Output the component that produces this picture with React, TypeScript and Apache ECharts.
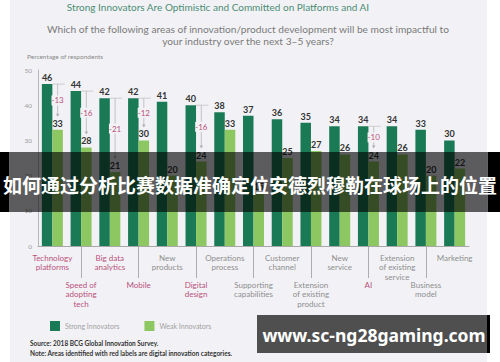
import React, { useEffect, useRef } from 'react';
import * as echarts from 'echarts';

const categories = [
  'Technology\nplatforms',
  'Speed of\nadopting\ntech',
  'Big data\nanalytics',
  'Mobile',
  'New\nproducts',
  'Digital\ndesign',
  'Operations\nprocess',
  'Supporting\ncapabilities',
  'Customer\nchannel',
  'Extension\nof existing\nproduct',
  'New\nservice',
  'AI',
  'Extension\nof existing\nservice',
  'Business\nmodel',
  'Marketing',
];
const strongInnovators = [46, 44, 42, 42, 41, 40, 38, 37, 36, 35, 34, 34, 34, 33, 30];
const weakInnovators = [33, 28, 21, 30, 20, 24, 33, 15, 25, 27, 26, 24, 26, 20, 22];
const digitalCategories = [0, 1, 2, 3, 5, 11];
const gapAnnotated = [0, 1, 2, 3, 5, 11];
const yTicks = { min: 0, max: 50, interval: 10 };

const titleText = 'Strong Innovators Are Optimistic and Committed on Platforms and AI';
const questionLines = [
  'Which of the following areas of innovation/product development will be most impactful to',
  'your industry over the next 3\u20135 years?',
];
const yAxisName = 'Percentage of respondents';
const legendNames = ['Strong Innovators', 'Weak Innovators'];
const footerLines = [
  'Source: 2018 BCG Global Innovation Survey.',
  'Note: Areas identified with red labels are digital innovation categories.',
];
const bannerText = '如何通过分析比赛数据准确定位安德烈穆勒在球场上的位置';
const watermarkText = 'www.sc-ng28gaming.com';

const DARK = '#1b7a56';
const LIGHT = '#8dc762';
const PANEL = '#f2f2f6';
const RED = '#b9517a';
const GREY = '#8e8e8e';
const FONT = 'Lato';
const BAR_W = 10.5;

export default function App() {
  const ref = useRef<HTMLDivElement>(null);

  useEffect(() => {
    if (!ref.current) return;
    const chart = echarts.init(ref.current, null, { renderer: 'svg' });

    const option: any = {
      animation: false,
      backgroundColor: 'transparent',
      textStyle: { fontFamily: FONT },
      grid: { left: 38, right: 31, top: 70, bottom: 116, containLabel: false },
      legend: {
        data: legendNames,
        left: 45,
        top: 316,
        icon: 'rect',
        itemWidth: 10,
        itemHeight: 10,
        itemGap: 25,
        textStyle: { color: '#a0a0a0', fontSize: 7, fontFamily: FONT },
      },
      xAxis: {
        type: 'category',
        data: categories,
        axisLine: { lineStyle: { color: '#a8a8a8', width: 1 } },
        axisTick: {
          show: true,
          alignWithLabel: true,
          interval: (idx: number) => idx % 2 === 1,
          length: 32,
          lineStyle: { color: '#9a9a9a', width: 0.8 },
        },
        axisLabel: {
          interval: 0,
          margin: 7,
          formatter: (value: string, idx: number) => {
            const key = digitalCategories.includes(idx) ? 'r' : 'g';
            const body = value
              .split('\n')
              .map((l) => `{${key}|${l}}`)
              .join('\n');
            return idx % 2 === 1 ? `{sp| }\n${body}` : body;
          },
          rich: {
            r: { color: RED, fontSize: 8, lineHeight: 9.5, fontFamily: FONT },
            g: { color: GREY, fontSize: 8, lineHeight: 9.5, fontFamily: FONT },
            sp: { fontSize: 8, lineHeight: 27, height: 27 },
          },
        },
      },
      yAxis: {
        type: 'value',
        min: yTicks.min,
        max: yTicks.max,
        interval: yTicks.interval,
        axisLine: { show: true, lineStyle: { color: '#b8b8b8', width: 1 } },
        axisTick: { show: false },
        splitLine: { show: false },
        axisLabel: { color: '#9a9a9a', fontSize: 6.5, margin: 6, fontFamily: FONT },
      },
      series: [
        {
          name: legendNames[0],
          type: 'bar',
          data: strongInnovators,
          barWidth: BAR_W,
          barGap: '0%',
          itemStyle: { color: DARK },
          label: {
            show: true,
            position: 'top',
            distance: 2,
            color: '#333',
            fontSize: 9,
            fontWeight: 'bold',
            fontFamily: FONT,
          },
        },
        {
          name: legendNames[1],
          type: 'bar',
          data: weakInnovators,
          barWidth: BAR_W,
          barGap: '0%',
          itemStyle: { color: LIGHT },
          label: {
            show: true,
            position: 'top',
            distance: 2,
            color: '#333',
            fontSize: 9,
            fontWeight: 'bold',
            fontFamily: FONT,
          },
        },
        {
          type: 'custom',
          silent: true,
          z: 5,
          encode: { x: 0, y: [1, 2] },
          data: gapAnnotated.map((i) => [i, strongInnovators[i], weakInnovators[i]]),
          renderItem: (params: any, api: any) => {
            const i = api.value(0);
            const s = api.value(1);
            const w = api.value(2);
            const top = api.coord([i, s]);
            const bot = api.coord([i, w]);
            const x = top[0] + BAR_W / 2;
            const y1 = top[1];
            const y2 = bot[1] - 13;
            const mid = (y1 + y2) / 2;
            return {
              type: 'group',
              children: [
                {
                  type: 'line',
                  shape: { x1: top[0], y1, x2: x + 7, y2: y1 },
                  style: { stroke: '#c4c4c4', lineWidth: 0.8 },
                },
                {
                  type: 'line',
                  shape: { x1: x, y1, x2: x, y2: y2 - 2 },
                  style: { stroke: '#b8b8b8', lineWidth: 0.8 },
                },
                {
                  type: 'polygon',
                  shape: { points: [[x - 1.8, y2 - 3], [x + 1.8, y2 - 3], [x, y2]] },
                  style: { fill: '#b0b0b0' },
                },
                {
                  type: 'text',
                  x,
                  y: mid,
                  style: {
                    text: `-${s - w}`,
                    fill: RED,
                    fontSize: 8,
                    fontFamily: FONT,
                    align: 'center',
                    verticalAlign: 'middle',
                    backgroundColor: PANEL,
                    padding: [1, 0],
                  },
                },
              ],
            };
          },
        },
      ],
      graphic: [
        {
          type: 'text',
          style: {
            x: 218,
            y: 7,
            text: titleText,
            fill: '#4b8d73',
            fontSize: 10,
            fontFamily: FONT,
            align: 'center',
            verticalAlign: 'middle',
          },
          silent: true,
        },
        ...questionLines.map((t, k) => ({
          type: 'text',
          style: {
            x: 248,
            y: 29 + k * 12,
            text: t,
            fill: '#7a7a7a',
            fontSize: 10.2,
            fontFamily: FONT,
            align: 'center',
            verticalAlign: 'middle',
          },
          silent: true,
        })),
        {
          type: 'text',
          style: {
            x: 27,
            y: 56,
            text: yAxisName,
            fill: '#8a8a8a',
            fontSize: 6.5,
            fontFamily: FONT,
            align: 'left',
            verticalAlign: 'middle',
          },
          silent: true,
        },
        ...footerLines.map((t, k) => ({
          type: 'text',
          style: {
            x: 30,
            y: 343 + k * 10,
            text: t,
            fill: '#333',
            fontSize: 6.5,
            fontWeight: 'bold',
            fontFamily: FONT,
            align: 'left',
            verticalAlign: 'middle',
          },
          silent: true,
        })),
        {
          type: 'rect',
          z: 100,
          shape: { x: 0, y: 152, width: 9, height: 60 },
          style: { fill: '#000' },
          silent: true,
        },
        {
          type: 'rect',
          z: 100,
          shape: { x: 9, y: 152, width: 479, height: 60 },
          style: { fill: 'rgba(0,0,0,0.62)' },
          silent: true,
        },
        {
          type: 'rect',
          z: 100,
          shape: { x: 488, y: 152, width: 12, height: 60 },
          style: { fill: '#000' },
          silent: true,
        },
        {
          type: 'text',
          z: 101,
          style: {
            x: 250,
            y: 184,
            text: bannerText,
            fill: '#fff',
            fontSize: 19,
            fontWeight: 'bold',
            fontFamily: 'Noto Sans CJK SC',
            align: 'center',
            verticalAlign: 'middle',
          },
          silent: true,
        },
        {
          type: 'rect',
          z: 100,
          shape: { x: 257, y: 315, width: 231, height: 38 },
          style: { fill: '#4f4f4f' },
          silent: true,
        },
        {
          type: 'rect',
          z: 100,
          shape: { x: 487, y: 315, width: 3, height: 38 },
          style: { fill: '#000' },
          silent: true,
        },
        {
          type: 'text',
          z: 101,
          style: {
            x: 374,
            y: 335,
            text: watermarkText,
            fill: '#fff',
            fontSize: 17.5,
            fontWeight: 'bold',
            fontFamily: 'Noto Sans',
            align: 'center',
            verticalAlign: 'middle',
          },
          silent: true,
        },
      ],
    };

    chart.setOption(option);
    return () => chart.dispose();
  }, []);

  return (
    <div style={{ position: 'absolute', left: 0, top: 0, width: 500, height: 362, background: '#fff' }}>
      <div style={{ position: 'absolute', left: 10, top: 0, width: 477, height: 362, background: PANEL }} />
      <div ref={ref} style={{ position: 'absolute', left: 0, top: 0, width: 500, height: 362 }} />
    </div>
  );
}
